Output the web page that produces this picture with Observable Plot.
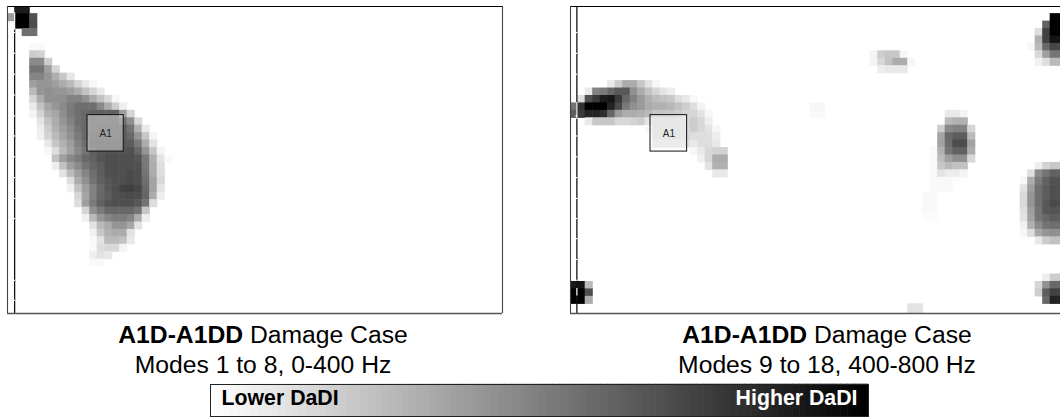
<!DOCTYPE html>
<html><head><meta charset="utf-8">
<script src="https://cdn.jsdelivr.net/npm/d3@7"></script>
<script src="https://cdn.jsdelivr.net/npm/@observablehq/plot@0.6"></script>
<style>
html,body{margin:0;padding:0;background:#fff;width:1060px;height:419px;overflow:hidden;font-family:"Liberation Sans",Arial,sans-serif}
.panel{position:absolute}
.panel svg{display:block;background:transparent}
.cap{position:absolute;text-align:center;font-size:24.7px;line-height:30px;color:#000;white-space:nowrap;transform:translateX(-50%)}
</style></head><body>
<div id="left" class="panel" style="left:6px;top:5px"></div>
<div id="right" class="panel" style="left:569px;top:5px"></div>
<div class="cap" style="left:263px;top:320px"><b>A1D-A1DD</b> Damage Case<br>Modes 1 to 8, 0-400 Hz</div>
<div class="cap" style="left:827px;top:320px"><b>A1D-A1DD</b> Damage Case<br>Modes 9 to 18, 400-800 Hz</div>
<div id="legend" class="panel" style="left:209px;top:383px"></div>
<script>
// [row, first column, darkness (0 white .. 100 black) for successive columns]
const leftCells = [
 [0,1,88,88],
 [1,0,35,100,100,65],
 [2,1,100,100,67],
 [3,2,52,52],
 [5,3,2,2],
 [6,3,18,16],
 [7,3,42,42,18],
 [8,3,50,50,35,15],
 [9,3,44,44,38,29,20,9],
 [10,3,35,38,38,35,30,25,16,8,3],
 [11,3,25,38,40,38,38,35,30,22,15,8],
 [12,3,15,30,40,40,40,45,45,40,30,22,14,3],
 [13,3,8,22,32,38,42,48,52,52,52,42,30,18,6],
 [14,3,4,16,28,32,40,48,52,55,58,58,58,58,35,15],
 [15,4,10,22,30,38,45,52,55,58,58,58,58,50,40,14],
 [16,4,6,18,28,35,42,50,55,58,60,60,60,60,50,28,8],
 [17,4,5,16,25,32,40,48,55,60,60,60,60,60,55,38,20,4],
 [18,5,8,20,28,35,45,52,62,62,62,62,62,60,48,30,10],
 [19,5,3,12,25,33,42,50,58,62,64,64,64,65,55,38,20,4],
 [20,6,22,35,42,48,55,58,64,66,66,66,66,63,48,28,10,2],
 [21,6,6,22,35,42,50,56,60,66,66,66,66,65,48,30,12],
 [22,7,10,25,35,44,52,60,65,66,66,68,66,50,30,12],
 [23,8,12,30,40,50,58,63,65,66,68,66,52,33,14],
 [24,8,5,22,35,45,55,62,66,72,73,70,55,33,10],
 [25,9,15,32,45,55,60,65,67,68,67,56,30,6],
 [26,9,12,35,48,58,64,66,66,66,62,50,12],
 [27,10,15,40,48,55,55,55,55,50,20],
 [28,10,5,25,38,44,47,47,44,30,6],
 [29,11,10,25,30,38,38,32,10],
 [30,11,5,20,28,30,30,10],
 [31,11,2,10,25,25,22,8],
 [32,11,2,12,14,14,4],
 [33,11,6,10,8],
 [34,11,2,2]
];
const rightCells = [
 [1,64,100,100],
 [2,63,58,100,100],
 [3,62,12,72,100,100],
 [4,62,28,72,92,92],
 [5,61,3,25,55,70,70],
 [6,40,4,18,20,20,3],
 [6,62,14,35,50,50],
 [7,40,4,14,22,30,30,3],
 [7,62,5,12,25,25],
 [8,41,6,8,8,8],
 [10,5,8,18,30,30,20,10,3],
 [11,2,8,45,48,55,62,62,40,30,22,15,10,6],
 [12,1,12,65,75,88,90,75,55,45,36,28,24,22,20,12,8,2],
 [13,0,50,78,100,100,100,85,68,48,40,36,30,28,28,26,22,18,12,4],
 [13,32,3,3],
 [14,0,60,75,85,85,80,55,36,30,30,28,25,20,20,20,18,15,15,10,3],
 [14,32,2,2],
 [14,50,8,8,4],
 [15,2,8,20,20,20,14,14,16,18,10,14,14,14,14,14,18,14,6],
 [15,50,25,28,28],
 [16,10,3,14,14,14,14,14,18,14,10,3],
 [16,49,18,42,45,45,15],
 [17,11,14,14,14,14,14,12,12,12,6],
 [17,49,32,55,60,60,25],
 [18,11,12,12,12,12,12,8,12,12,8],
 [18,49,33,53,67,67,33],
 [19,16,3,8,14,16,16],
 [19,48,2,28,50,58,58,30],
 [20,17,5,14,30,30],
 [20,48,2,24,35,40,40,14],
 [21,18,10,28,28],
 [21,48,2,20,25,22,22],
 [21,62,6,16,20,20],
 [22,19,8,8],
 [22,48,2,10,7,7,4],
 [22,61,12,42,50,58,58],
 [23,48,2,2,2,1],
 [23,60,3,30,48,58,65,65],
 [24,48,2,2,2],
 [24,60,10,35,52,60,66,66],
 [25,47,2,2],
 [25,60,14,38,52,60,66,66],
 [26,47,2,2],
 [26,60,14,38,52,62,68,68],
 [27,47,2,2],
 [27,60,12,35,50,62,64,64],
 [28,47,1,1],
 [28,60,10,33,50,55,60,60],
 [29,60,5,28,42,50,52,52],
 [30,60,3,12,32,38,40,40],
 [31,62,8,18,22,22],
 [36,63,6,18,18],
 [37,0,90,92,25],
 [37,62,15,40,55,55],
 [38,0,100,100,67],
 [38,62,18,60,72,72],
 [39,0,100,100,30],
 [39,63,55,85,85],
 [40,45,10,10],
 [41,45,10,10]
];
const colPx = 7.5, rowPx = 7.44;
const leftBox = {x1:10.67, x2:15.5, y1:14.6, y2:19.5};
const rightBox = {x1:10.67, x2:15.55, y1:14.6, y2:19.5};
const boxLabel = "A1";
const leftAxis = {x:0.95, y1:0.8, y2:41.26, white:[[0.85,3.2]], ticks:[3.5,6.3,9.1,11.9,14.7,17.4,20.2,23,25.8,28.5,36.8,39.5]};
const rightAxis = {x:0.85, y1:0, y2:41.26, white:[[12.9,15.2],[37.9,38.9]], ticks:[3.5,6.3,9.1,14.7,17.4,20.2,23,25.8,28.5,31.2,34,36.8]};
const legendSteps = d3.range(0,96);
const legendLabels = ["Lower DaDI","Higher DaDI"];

const unpack = rows => rows.flatMap(([row,start,...vals]) => vals.map((v,i)=>({row,col:start+i,v})));
const color = {type:"linear",domain:[0,50,100],range:["#ffffff","#747474","#000000"],interpolate:"rgb"};

function panel(cells, box, ax, wPx, hasRight, mL, mR){
  const cols = (wPx-mL-mR)/colPx, rows = 307/rowPx;
  const marks = [
    Plot.rect(unpack(cells),{x1:"col",x2:d=>d.col+1,y1:"row",y2:d=>d.row+1,fill:"v",clip:true,inset:-0.3}),
    Plot.rect([box],{x1:"x1",x2:"x2",y1:"y1",y2:"y2",fill:"white",fillOpacity:0.4,stroke:"#111",strokeWidth:1}),
    Plot.text([box],{x:d=>(d.x1+d.x2)/2,y:d=>(d.y1+d.y2)/2,text:()=>boxLabel,fontSize:10,fill:"#222",fontFamily:"Liberation Sans"}),
    Plot.ruleX([ax.x],{y1:ax.y1,y2:ax.y2,stroke:"#111",strokeWidth:1.3}),
    Plot.ruleY(ax.ticks,{x1:ax.x-0.12,x2:ax.x+0.12,stroke:"white",strokeWidth:1.2}),
    Plot.ruleX(ax.white,{x:()=>ax.x,y1:d=>d[0],y2:d=>d[1],stroke:"#fff",strokeWidth:1.2}),
    Plot.ruleY([0],{stroke:"#000",strokeWidth:1.2}),
    Plot.ruleY([rows],{stroke:"#555",strokeWidth:1.3}),
    Plot.ruleX([0],{stroke:"#444",strokeWidth:1.1})
  ];
  if(hasRight) marks.push(Plot.ruleX([cols],{stroke:"#444",strokeWidth:1.1}));
  const svg = Plot.plot({
    width:wPx,height:309,marginLeft:mL,marginRight:mR,marginTop:1,marginBottom:1,
    x:{domain:[0,cols],axis:null},y:{domain:[0,rows],reverse:true,axis:null},
    color,style:{background:"transparent",overflow:"visible"},marks
  });
  // soften the cell mark only, the way the resampled bitmap in the source is soft
  const g = [...svg.children].find(n => n.tagName==="g" && n.querySelector("rect"));
  if(g) g.style.filter = "blur(0.7px)";
  return svg;
}
document.getElementById("left").append(panel(leftCells,leftBox,leftAxis,497,true,1,1));
document.getElementById("right").append(panel(rightCells,rightBox,rightAxis,491,false,1,0));

const legend = Plot.plot({
  width:660,height:34,marginLeft:1,marginRight:1,marginTop:1,marginBottom:1,
  x:{domain:[0,96],axis:null},y:{domain:[0,1],axis:null},
  color:{type:"linear",domain:[0,95],range:["#ffffff","#000000"],interpolate:"rgb"},
  style:{background:"transparent",overflow:"visible"},
  marks:[
    Plot.rect(legendSteps,{x1:d=>d,x2:d=>d+1,y1:0,y2:1,fill:d=>d,inset:-0.3}),
    Plot.frame({stroke:"#222",strokeWidth:1}),
    Plot.text([legendLabels[0]],{frameAnchor:"left",dx:11,dy:-2,text:d=>d,fontSize:21.3,fontWeight:"bold",fill:"#000",fontFamily:"Liberation Sans"}),
    Plot.text([legendLabels[1]],{frameAnchor:"right",dx:-11,dy:-2,text:d=>d,fontSize:21.3,fontWeight:"bold",fill:"#fff",fontFamily:"Liberation Sans"})
  ]
});
document.getElementById("legend").append(legend);
</script>
</body></html>
